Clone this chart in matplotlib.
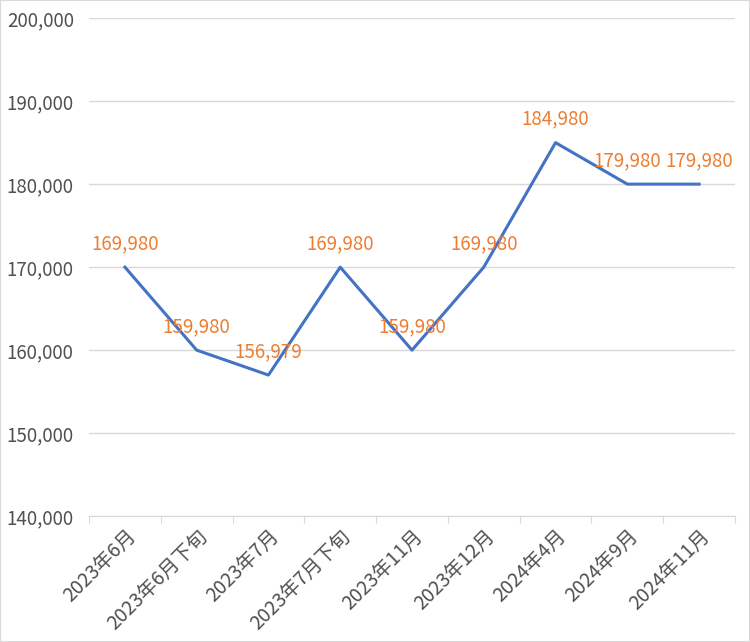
import matplotlib.pyplot as plt
from matplotlib.ticker import FuncFormatter
import numpy as np

plt.rcParams['font.family'] = ['Noto Sans CJK JP', 'DejaVu Sans']

# データ
categories = ["2023年6月", "2023年6月下旬", "2023年7月", "2023年7月下旬", "2023年11月",
              "2023年12月", "2024年4月", "2024年9月", "2024年11月"]
prices = [169980, 159980, 156979, 169980, 159980, 169980, 184980, 179980, 179980]

fig = plt.figure(figsize=(7.5, 6.42), dpi=100)
ax = fig.add_axes([0.1187, 0.1963, 0.8613, 0.7757])

x = np.arange(len(categories))
ax.plot(x, prices, color='#4472C4', linewidth=2.2, zorder=3)

for xi, v in zip(x, prices):
    ax.annotate(f"{v:,}", (xi, v), xytext=(0, 17), textcoords='offset points',
                ha='center', va='center', color='#ED7D31', fontsize=13.5, zorder=4)

ax.set_xlim(-0.5, len(categories) - 0.5)
ax.set_ylim(140000, 200000)
ax.set_yticks(np.arange(140000, 200001, 10000))
ax.yaxis.set_major_formatter(FuncFormatter(lambda v, p: f"{int(v):,}"))
ax.grid(axis='y', color='#D9D9D9', linewidth=1)
ax.set_axisbelow(True)

# x軸: 区切り目盛り
ax.set_xticks(np.arange(-0.5, len(categories)), minor=False)
ax.set_xticklabels([])
ax.set_xticks(x, minor=True)
ax.set_xticklabels(categories, minor=True, rotation=45, ha='right',
                   rotation_mode='anchor', fontsize=14, color='#505050')
ax.tick_params(axis='x', which='minor', length=0, pad=7)
ax.tick_params(axis='x', which='major', length=5, color='#D9D9D9')
ax.tick_params(axis='y', length=0, labelsize=13.5, labelcolor='#505050', pad=11)

for s in ['top', 'right', 'left']:
    ax.spines[s].set_visible(False)
ax.spines['bottom'].set_color('#D9D9D9')

fig.patches.append(plt.Rectangle((0, 0), 1, 1, transform=fig.transFigure,
                                 fill=False, edgecolor='#D9D9D9', linewidth=1.5))

fig.savefig('out.png', dpi=100)
